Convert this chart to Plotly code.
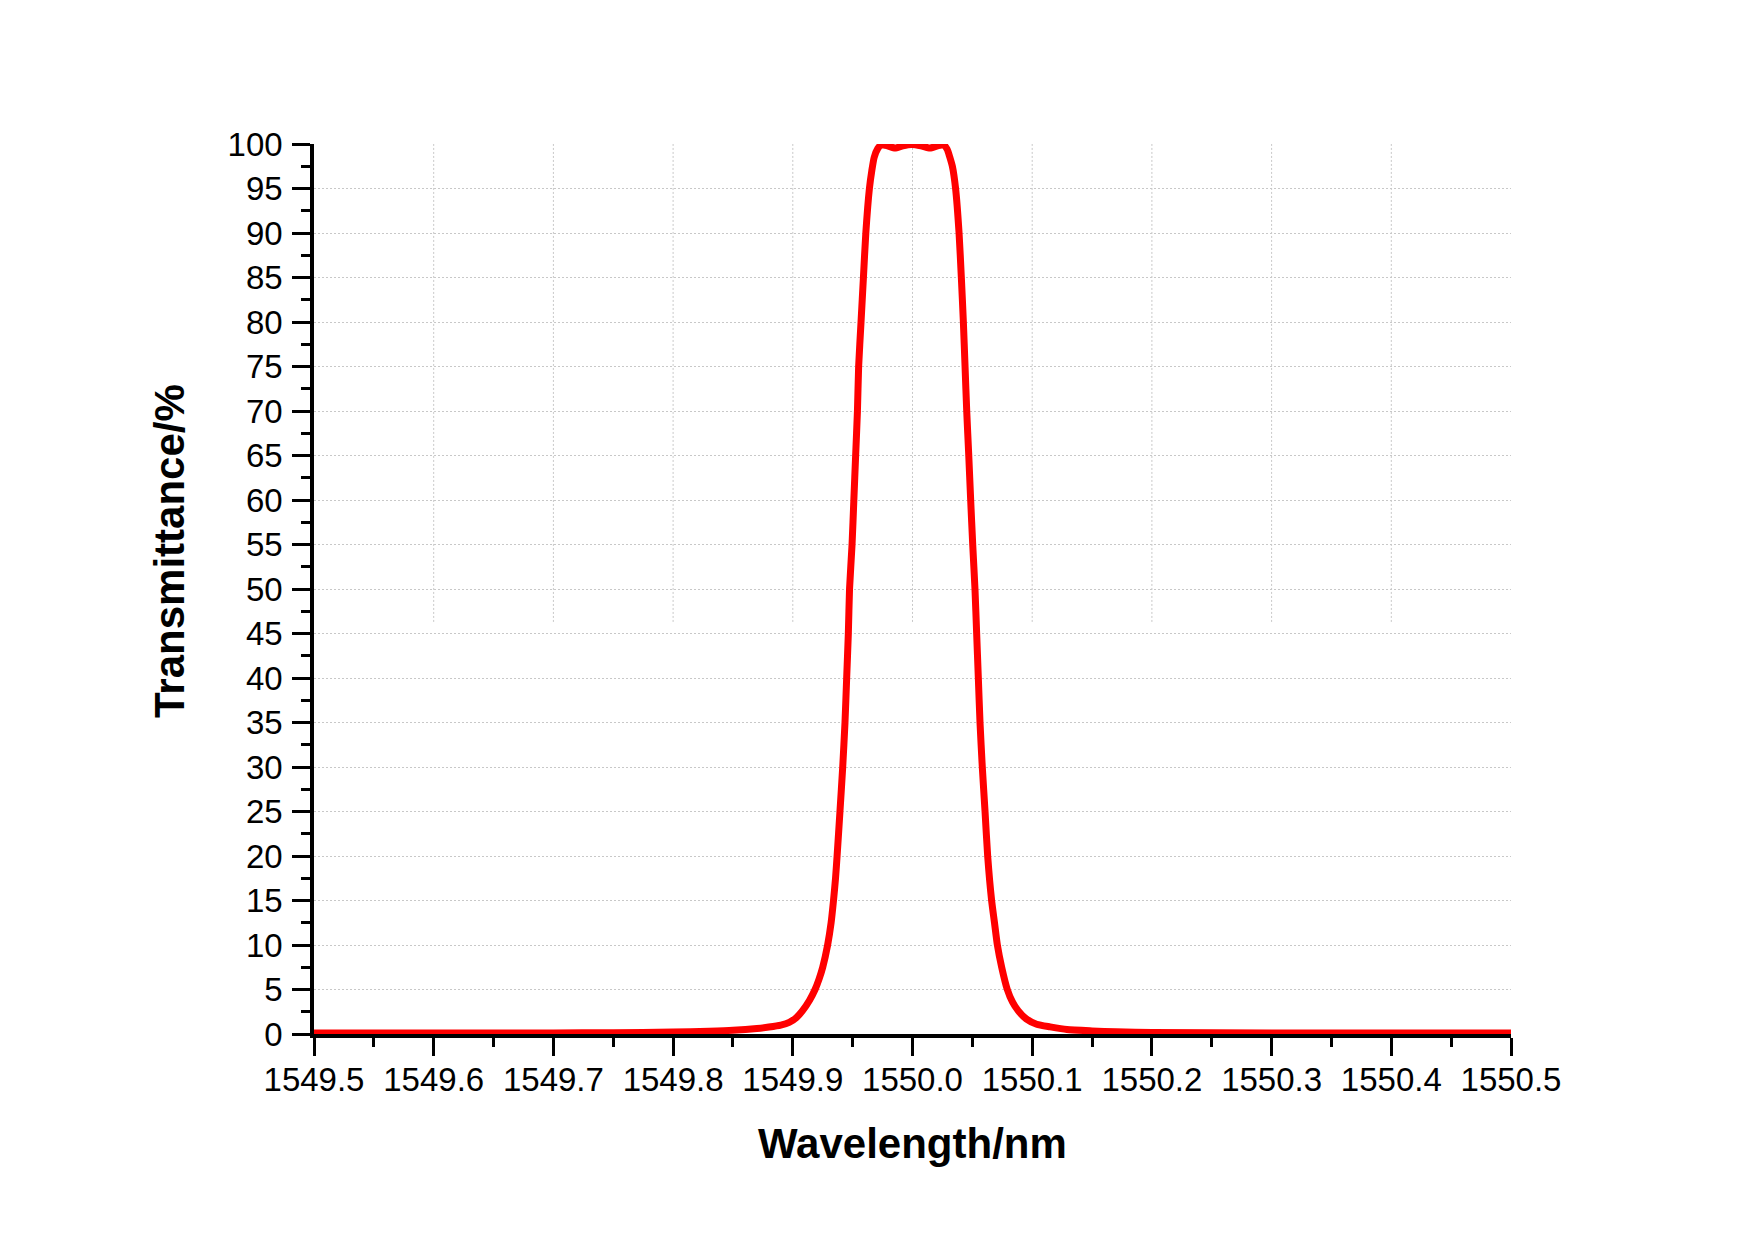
import plotly.graph_objects as go

wavelength = [
    1549.50, 1549.60, 1549.70, 1549.75, 1549.80, 1549.83, 1549.85, 1549.87, 1549.88,
    1549.89, 1549.897, 1549.903, 1549.908, 1549.914, 1549.9186, 1549.922, 1549.925, 1549.9291,
    1549.932, 1549.934, 1549.9357, 1549.937, 1549.9394, 1549.9417, 1549.9436, 1549.945,
    1549.9464, 1549.9474, 1549.9495, 1549.951, 1549.9525, 1549.954, 1549.955, 1549.957,
    1549.959, 1549.961, 1549.964, 1549.966, 1549.968, 1549.971, 1549.974, 1549.979,
    1549.9854, 1549.992, 1549.9993, 1550.007, 1550.0146, 1550.021, 1550.026, 1550.029,
    1550.031, 1550.0333, 1550.036, 1550.0389, 1550.0408, 1550.0425, 1550.0439, 1550.0453,
    1550.047, 1550.0486, 1550.0503, 1550.0522, 1550.0536, 1550.055, 1550.0564, 1550.0583,
    1550.0606, 1550.0628, 1550.0661, 1550.0685, 1550.0709, 1550.0745, 1550.0792, 1550.0835,
    1550.0884, 1550.095, 1550.1037, 1550.115, 1550.129, 1550.15, 1550.17, 1550.20,
    1550.30, 1550.40, 1550.50,
]
transmittance = [
    0.10, 0.10, 0.12, 0.15, 0.22, 0.32, 0.42, 0.62, 0.78,
    1.0, 1.3, 1.85, 2.6, 3.8, 5.0, 6.2, 7.5, 10.0,
    12.5, 15.0, 17.5, 20.0, 25.0, 30.0, 35.0, 40.0,
    45.0, 50.0, 55.0, 60.0, 65.0, 70.0, 75.0, 80.0,
    85.0, 90.0, 95.0, 97.0, 98.5, 99.5, 99.9, 99.8,
    99.55, 99.8, 99.95, 99.8, 99.55, 99.8, 99.9, 99.4,
    98.6, 97.5, 95.0, 90.0, 85.0, 80.0, 75.0, 70.0,
    65.0, 60.0, 55.0, 50.0, 45.0, 40.0, 35.0, 30.0,
    25.0, 20.0, 15.0, 12.5, 10.0, 7.5, 5.0, 3.6,
    2.6, 1.7, 1.1, 0.8, 0.5, 0.35, 0.25, 0.18,
    0.12, 0.10, 0.10,
]

x_ticks = [1549.5, 1549.6, 1549.7, 1549.8, 1549.9, 1550.0, 1550.1, 1550.2, 1550.3, 1550.4, 1550.5]
x_tick_labels = ["1549.5", "1549.6", "1549.7", "1549.8", "1549.9", "1550.0",
                 "1550.1", "1550.2", "1550.3", "1550.4", "1550.5"]
y_ticks = list(range(0, 101, 5))
v_grid_positions = x_ticks[1:-1]
v_grid_bottom = 46.3

FONT = "Liberation Sans, Arial, sans-serif"

fig = go.Figure()
fig.add_trace(go.Scatter(
    x=wavelength, y=transmittance, mode="lines",
    line=dict(color="#ff0000", width=7, shape="spline", smoothing=0.6),
    showlegend=False, hoverinfo="skip",
))

for xv in v_grid_positions:
    fig.add_shape(type="line", xref="x", yref="y", x0=xv, x1=xv, y0=v_grid_bottom, y1=100,
                  line=dict(color="#c8c8c8", width=1, dash="2px,2px"), layer="below")

fig.update_layout(
    width=1754, height=1239,
    margin=dict(l=314, r=243, t=144, b=205),
    paper_bgcolor="white", plot_bgcolor="white",
    font=dict(family=FONT, size=33, color="black"),
    xaxis=dict(
        range=[1549.5, 1550.5], tickmode="array", tickvals=x_ticks, ticktext=x_tick_labels,
        showgrid=False, zeroline=False,
        showline=True, linecolor="black", linewidth=3.5,
        ticks="outside", ticklen=18, tickwidth=3, tickcolor="black",
        minor=dict(ticks="outside", ticklen=9, tickwidth=3, tickcolor="black", dtick=0.05,
                   tick0=1549.5, showgrid=False),
        tickfont=dict(family=FONT, size=33, color="black"),
        ticklabelstandoff=-4,
    ),
    yaxis=dict(
        range=[0, 100], tickmode="array", tickvals=y_ticks,
        showgrid=True, gridcolor="#c8c8c8", gridwidth=1, griddash="2px,2px",
        zeroline=False,
        showline=True, linecolor="black", linewidth=3.5,
        ticks="outside", ticklen=18, tickwidth=3, tickcolor="black",
        minor=dict(ticks="outside", ticklen=9, tickwidth=3, tickcolor="black", dtick=2.5,
                   tick0=0, showgrid=False),
        tickfont=dict(family=FONT, size=33, color="black"),
        ticklabelstandoff=3,
    ),
    annotations=[
        dict(text="<b>Wavelength/nm</b>", xref="paper", yref="paper", x=0.5, y=-0.1225,
             xanchor="center", yanchor="middle", showarrow=False,
             font=dict(family=FONT, size=42, color="black")),
        dict(text="<b>Transmittance/%</b>", xref="paper", yref="paper", x=-0.1203, y=0.5427,
             xanchor="center", yanchor="middle", showarrow=False, textangle=-90,
             font=dict(family=FONT, size=42, color="black")),
    ],
)

fig.write_html("out.html")
